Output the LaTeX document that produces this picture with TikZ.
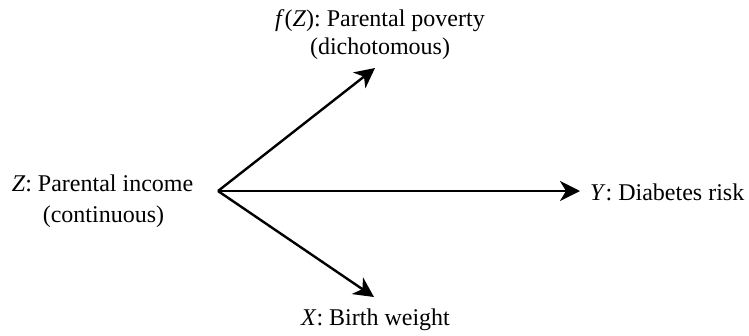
\documentclass[tikz,border=0pt]{standalone}
\usepackage{fontspec}
\setmainfont{Liberation Serif}
\usetikzlibrary{arrows.meta}
\begin{document}
\begin{tikzpicture}[x=1pt,y=-1pt,
  lbl/.style={inner sep=0pt,anchor=base,font=\fontsize{24}{29}\selectfont},
  conn/.style={line width=2.4pt,-{Stealth[length=20pt,width=20pt,inset=6pt]}}]
\useasboundingbox (0,0) rectangle (749,335);
\node[lbl] (z1) at (102.5,191) {\textit{Z}: Parental income};
\node[lbl] (z2) at (103.5,222) {(continuous)};
\node[lbl] (f1) at (380,26) {\textit{f}(\textit{Z}): Parental poverty};
\node[lbl] (f2) at (380,54) {(dichotomous)};
\node[lbl,anchor=base west] (y) at (590,200) {\textit{Y}: Diabetes risk};
\node[lbl] (x) at (375.5,325) {\textit{X}: Birth weight};
\coordinate (O) at (218,191);
\coordinate (tf) at (375,68);
\coordinate (ty) at (580,191);
\coordinate (tx) at (374,297);
\draw[conn] (O) -- (tf);
\draw[conn] (O) -- (ty);
\draw[conn] (O) -- (tx);
\end{tikzpicture}
\end{document}
